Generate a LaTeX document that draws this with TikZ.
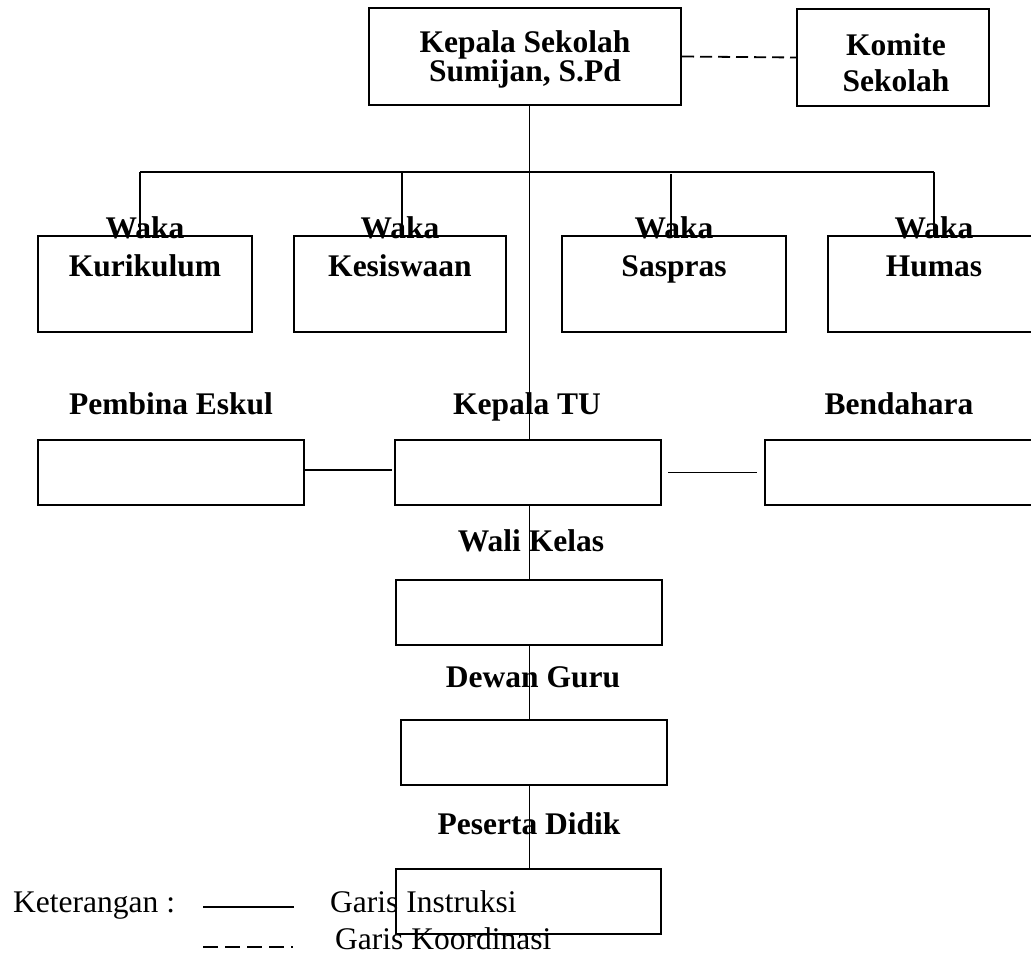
\documentclass[tikz,border=0pt]{standalone}
\usepackage{fontspec}
\setmainfont{Liberation Serif}
\begin{document}
\begin{tikzpicture}[x=1pt,y=-1pt,
  box/.style={draw, line width=2pt, inner sep=0pt, rectangle},
  lbl/.style={anchor=base, inner sep=0pt, font=\fontsize{31.5}{28}\selectfont\bfseries},
  leg/.style={anchor=base west, inner sep=0pt, font=\fontsize{31.5}{28}\selectfont},
  con/.style={line width=1.8pt},
  coord/.style={line width=1.8pt, dash pattern=on 12pt off 6pt}
]
\useasboundingbox (0,0) rectangle (1031,953);

% boxes
\node[box, minimum width=312pt, minimum height=97pt] (ks) at (525,56.5) {};
\node[box, minimum width=192pt, minimum height=97pt] (km) at (893,57.5) {};
\node[box, minimum width=214pt, minimum height=96pt] (wk) at (145,284) {};
\node[box, minimum width=212pt, minimum height=96pt] (wks) at (400,284) {};
\node[box, minimum width=224pt, minimum height=96pt] (wsp) at (674,284) {};
\node[box, minimum width=212pt, minimum height=96pt] (wh) at (934,284) {};
\node[box, minimum width=266pt, minimum height=65pt] (pe) at (171,472.5) {};
\node[box, minimum width=266pt, minimum height=65pt] (tu) at (528,472.5) {};
\node[box, minimum width=268pt, minimum height=65pt] (bd) at (899,472.5) {};
\node[box, minimum width=266pt, minimum height=65pt] (wali) at (529,612.5) {};
\node[box, minimum width=266pt, minimum height=65pt] (dg) at (534,752.5) {};
\node[box, minimum width=265pt, minimum height=65pt] (pd) at (528.5,901.5) {};

% texts
\node[lbl] (t1) at (525,52) {Kepala Sekolah};
\node[lbl] (t2) at (525,81) {Sumijan, S.Pd};
\node[lbl] (t3) at (896,55) {Komite};
\node[lbl] (t4) at (896,91.5) {Sekolah};
\node[lbl] (w1) at (145,238) {Waka};
\node[lbl] (w1b) at (145,276) {Kurikulum};
\node[lbl] (w2) at (400,238) {Waka};
\node[lbl] (w2b) at (400,276) {Kesiswaan};
\node[lbl] (w3) at (674,238) {Waka};
\node[lbl] (w3b) at (674,276) {Saspras};
\node[lbl] (w4) at (934,238) {Waka};
\node[lbl] (w4b) at (934,276) {Humas};
\node[lbl] (l1) at (171,414) {Pembina Eskul};
\node[lbl] (l2) at (527,414) {Kepala TU};
\node[lbl] (l3) at (899,414) {Bendahara};
\node[lbl] (l4) at (531,551) {Wali Kelas};
\node[lbl] (l5) at (533,687) {Dewan Guru};
\node[lbl] (l6) at (529,834) {Peserta Didik};

% trunk
\coordinate (tx) at (529.5,0);
\draw[con] (ks.south -| tx) -- (tu.north -| tx);
\draw[con] (tu.south -| tx) -- (wali.north -| tx);
\draw[con] (wali.south -| tx) -- (dg.north -| tx);
\draw[con] (dg.south -| tx) -- (pd.north -| tx);

% bar and drops
\coordinate (barL) at (140,172);
\coordinate (barR) at (934,172);
\coordinate (d2) at (402,172);
\coordinate (d3) at (671,174);
\draw[con] (barL) -- (barR);
\draw[con] (barL) -- (barL |- wk.north);
\draw[con] (d2) -- (d2 |- wks.north);
\draw[con] (d3) -- (d3 |- wsp.north);
\draw[con] (barR) -- (barR |- wh.north);

% side connectors
\draw[con] ([xshift=-2pt,yshift=2.5pt]pe.east) -- ([xshift=-2pt,yshift=2.5pt]tu.west);
\draw[con] ([xshift=6pt]tu.east) -- ([xshift=-7pt]bd.west);

% coordination
\draw[coord] (ks.east) -- (km.west);

% legend
\node[leg] (k1) at (13,912) {Keterangan :};
\node[leg] (k2) at (330,912) {Garis Instruksi};
\node[leg] (k3) at (335,949) {Garis Koordinasi};
\coordinate (s1) at (203,907);
\coordinate (s2) at (294,907);
\coordinate (c1) at (203,947);
\coordinate (c2) at (294,947);
\draw[con] (s1) -- (s2);
\draw[line width=1.8pt, dash pattern=on 15pt off 7pt on 15pt off 7pt on 15pt off 7pt on 15pt off 7pt on 2pt off 50pt] (c1) -- (c2);
\end{tikzpicture}
\end{document}
